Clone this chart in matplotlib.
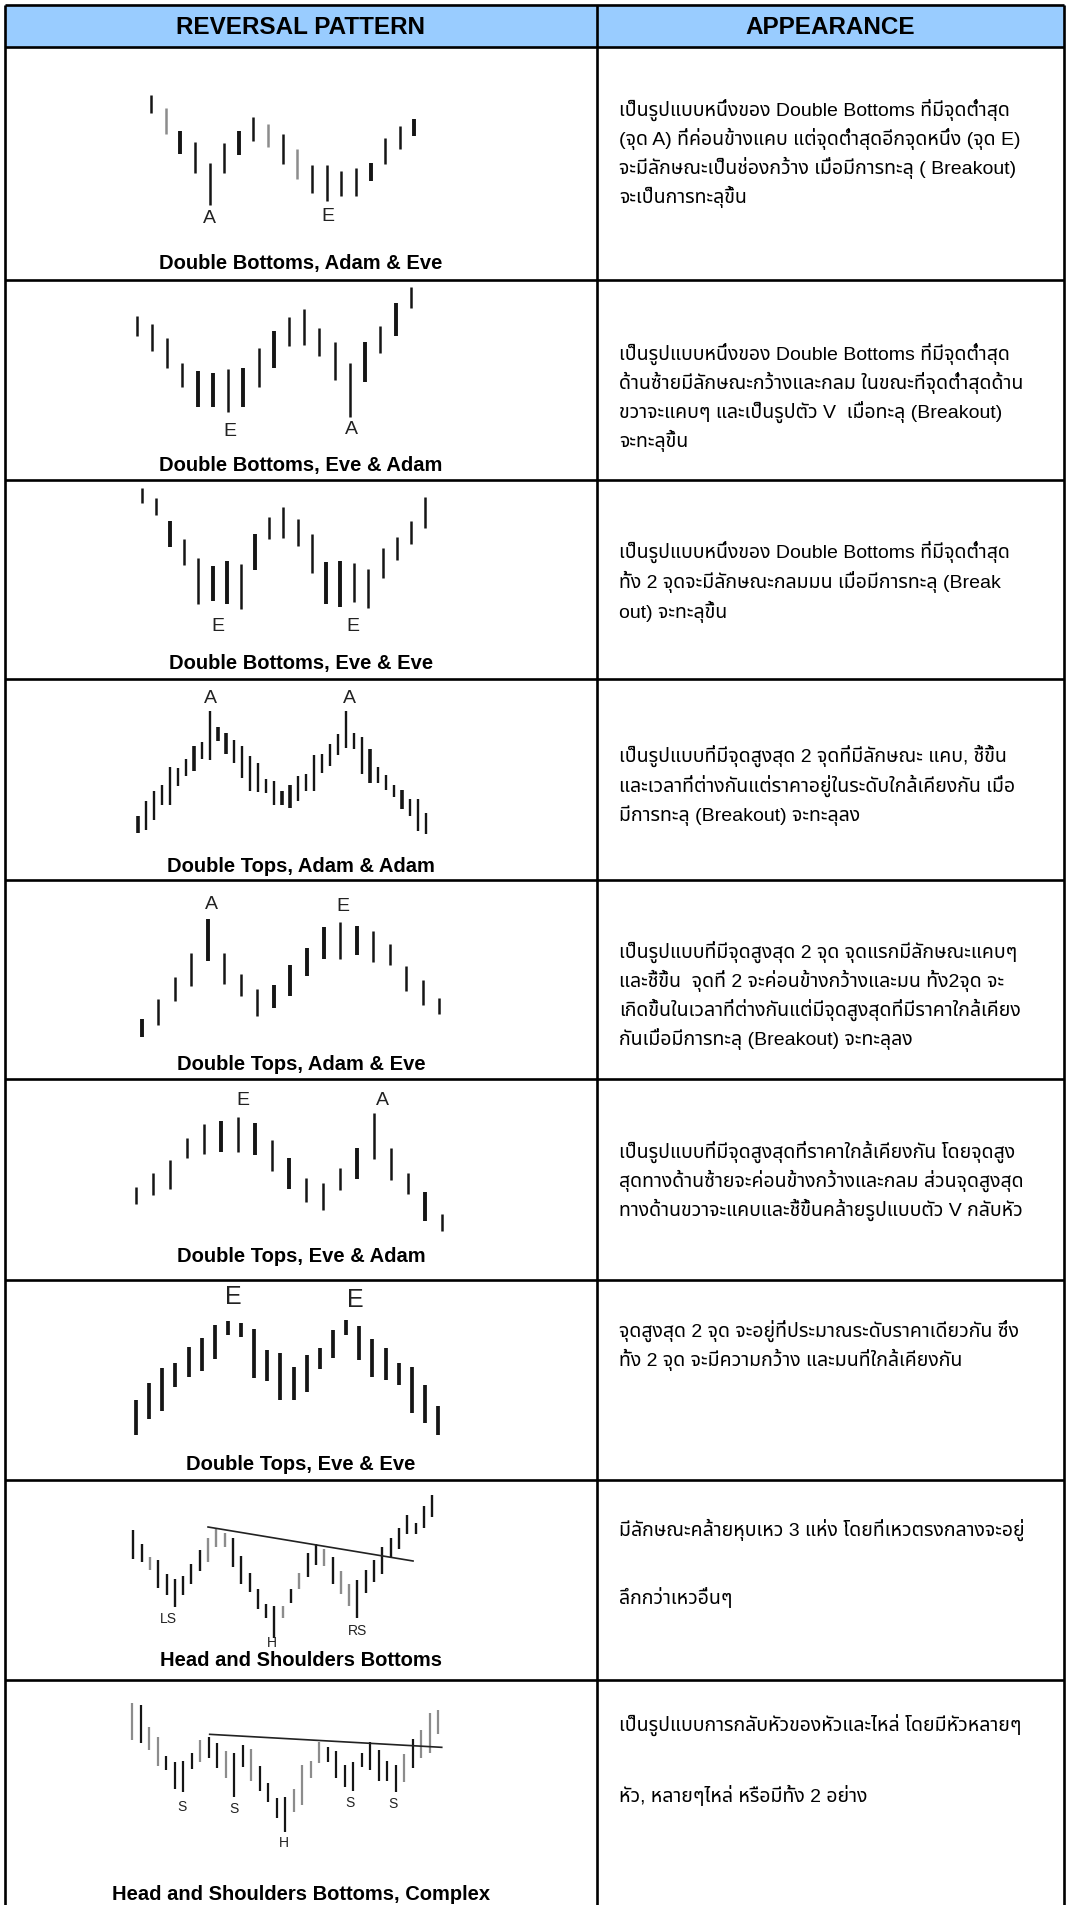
import numpy as np
import matplotlib
matplotlib.use("Agg")
import matplotlib.pyplot as plt
from matplotlib import font_manager as fm
from matplotlib.ft2font import FT2Font

W, H = 1067, 1905

# ---------------- data ----------------
headers = ["REVERSAL PATTERN", "APPEARANCE"]

pattern_names = [
    "Double Bottoms, Adam & Eve",
    "Double Bottoms, Eve & Adam",
    "Double Bottoms, Eve & Eve",
    "Double Tops, Adam & Adam",
    "Double Tops, Adam & Eve",
    "Double Tops, Eve & Adam",
    "Double Tops, Eve & Eve",
    "Head and Shoulders Bottoms",
    "Head and Shoulders Bottoms, Complex",
]

descriptions = [
    ["เป็นรูปแบบหนึ่งของ Double Bottoms ที่มีจุดต่ำสุด",
     "(จุด A) ที่ค่อนข้างแคบ แต่จุดต่ำสุดอีกจุดหนึ่ง (จุด E)",
     "จะมีลักษณะเป็นช่องกว้าง เมื่อมีการทะลุ ( Breakout)",
     "จะเป็นการทะลุขึ้น"],
    ["เป็นรูปแบบหนึ่งของ Double Bottoms ที่มีจุดต่ำสุด",
     "ด้านซ้ายมีลักษณะกว้างและกลม ในขณะที่จุดต่ำสุดด้าน",
     "ขวาจะแคบๆ และเป็นรูปตัว V  เมื่อทะลุ (Breakout)",
     "จะทะลุขึ้น"],
    ["เป็นรูปแบบหนึ่งของ Double Bottoms ที่มีจุดต่ำสุด",
     "ทั้ง 2 จุดจะมีลักษณะกลมมน เมื่อมีการทะลุ (Break",
     "out) จะทะลุขึ้น"],
    ["เป็นรูปแบบที่มีจุดสูงสุด 2 จุดที่มีลักษณะ แคบ, ชี้ขึ้น",
     "และเวลาที่ต่างกันแต่ราคาอยู่ในระดับใกล้เคียงกัน เมื่อ",
     "มีการทะลุ (Breakout) จะทะลุลง"],
    ["เป็นรูปแบบที่มีจุดสูงสุด 2 จุด จุดแรกมีลักษณะแคบๆ",
     "และชี้ขึ้น  จุดที่ 2 จะค่อนข้างกว้างและมน ทั้ง2จุด จะ",
     "เกิดขึ้นในเวลาที่ต่างกันแต่มีจุดสูงสุดที่มีราคาใกล้เคียง",
     "กันเมื่อมีการทะลุ (Breakout) จะทะลุลง"],
    ["เป็นรูปแบบที่มีจุดสูงสุดที่ราคาใกล้เคียงกัน โดยจุดสูง",
     "สุดทางด้านซ้ายจะค่อนข้างกว้างและกลม ส่วนจุดสูงสุด",
     "ทางด้านขวาจะแคบและชี้ขึ้นคล้ายรูปแบบตัว V กลับหัว"],
    ["จุดสูงสุด 2 จุด จะอยู่ที่ประมาณระดับราคาเดียวกัน ซึ่ง",
     "ทั้ง 2 จุด จะมีความกว้าง และมนที่ใกล้เคียงกัน"],
    ["มีลักษณะคล้ายหุบเหว 3 แห่ง โดยที่เหวตรงกลางจะอยู่",
     "",
     "ลึกกว่าเหวอื่นๆ"],
    ["เป็นรูปแบบการกลับหัวของหัวและไหล่ โดยมีหัวหลายๆ",
     "",
     "หัว, หลายๆไหล่ หรือมีทั้ง 2 อย่าง"],
]

# bar highs / lows (arbitrary price units)
db_ae_high = [465, 427, 358, 325, 260, 320, 357, 400, 378, 347, 302, 255, 255, 238, 247, 260, 337, 373, 392]
db_ae_low = [412, 347, 288, 230, 135, 230, 285, 327, 310, 257, 213, 170, 147, 163, 163, 207, 257, 302, 343]

db_ea_high = [417, 392, 352, 277, 252, 245, 257, 260, 320, 372, 413, 438, 382, 340, 275, 340, 388, 457, 503]
db_ea_low = [357, 312, 260, 205, 143, 145, 130, 145, 205, 262, 328, 330, 297, 225, 115, 220, 307, 357, 440]

db_ee_high = [515, 487, 418, 363, 307, 283, 298, 287, 377, 428, 458, 423, 377, 293, 298, 292, 273, 335, 370, 418, 488]
db_ee_low = [470, 435, 338, 285, 168, 177, 168, 153, 270, 363, 367, 343, 260, 168, 158, 173, 157, 245, 300, 348, 397]

dt_aa_high = [138, 182, 212, 232, 285, 282, 308, 347, 360, 452, 405, 387, 367, 348, 318, 298, 250, 242, 212,
              232, 257, 263, 322, 325, 353, 385, 452, 387, 375, 340, 285, 260, 232, 215, 190, 190, 147]
dt_aa_low = [88, 95, 127, 172, 172, 227, 258, 272, 310, 305, 363, 325, 298, 252, 212, 210, 208, 170, 172,
             162, 182, 212, 212, 268, 288, 322, 342, 338, 263, 238, 238, 217, 195, 160, 137, 92, 85]

dt_ae_high = [147, 207, 273, 345, 447, 345, 283, 237, 250, 310, 360, 422, 437, 425, 412, 373, 305, 263, 210]
dt_ae_low = [93, 130, 200, 247, 322, 252, 217, 157, 180, 217, 277, 328, 327, 340, 317, 310, 232, 190, 162]

dt_ea_high = [270, 313, 352, 418, 458, 468, 480, 463, 412, 358, 297, 283, 328, 388, 492, 388, 313, 255, 188]
dt_ea_low = [220, 247, 265, 358, 370, 375, 375, 367, 318, 265, 225, 200, 262, 295, 353, 292, 248, 167, 138]

dt_ee_high = [245, 298, 342, 357, 405, 432, 472, 482, 478, 460, 397, 387, 345, 382, 403, 455, 485, 467,
              428, 402, 357, 345, 290, 228]
dt_ee_low = [142, 190, 212, 285, 315, 332, 368, 442, 435, 312, 303, 245, 245, 270, 338, 373, 440, 365,
             315, 307, 290, 208, 178, 142]

hs_high = [467, 425, 388, 378, 335, 320, 330, 367, 408, 445, 472, 460, 445, 390, 338, 290, 245, 240, 240,
           290, 340, 400, 425, 410, 387, 345, 305, 318, 348, 378, 417, 445, 475, 512, 488, 540, 572]
hs_low = [382, 372, 348, 295, 272, 238, 272, 307, 345, 372, 418, 418, 358, 305, 282, 232, 205, 145, 205,
          250, 292, 328, 362, 360, 305, 275, 240, 205, 280, 313, 335, 385, 412, 455, 455, 475, 508]
hs_neck = [(9.0, 477), (33.7, 375)]

hsc_high = [605, 600, 535, 505, 447, 430, 432, 457, 495, 505, 485, 462, 455, 480, 468, 417, 365, 320, 323,
            348, 420, 433, 490, 475, 462, 420, 430, 457, 488, 465, 432, 420, 453, 498, 525, 575, 585]
hsc_low = [495, 485, 465, 417, 405, 348, 340, 407, 430, 440, 410, 380, 325, 415, 373, 343, 310, 260, 220,
           280, 300, 380, 425, 430, 380, 355, 343, 415, 405, 373, 373, 340, 368, 410, 440, 457, 512]
hsc_neck = [(9.1, 512), (36.4, 473)]

# point labels: (text, bar position, price)
labels = [
    [("A", 4, 95), ("E", 12.1, 100)],
    [("E", 6.1, 70), ("A", 14.1, 75)],
    [("E", 5.4, 100), ("E", 14.9, 100)],
    [("A", 9.0, 490), ("A", 26.4, 490)],
    [("A", 4.2, 490), ("E", 12.2, 485)],
    [("E", 6.3, 530), ("A", 14.5, 530)],
    [("E", 7.4, 555), ("E", 16.7, 545)],
    [("LS", 4.2, 200), ("H", 16.7, 130), ("RS", 27.0, 165)],
    [("S", 5.8, 295), ("S", 11.9, 288), ("H", 17.8, 185), ("S", 25.6, 305), ("S", 30.7, 302)],
]

series = [(db_ae_high, db_ae_low), (db_ea_high, db_ea_low), (db_ee_high, db_ee_low),
          (dt_aa_high, dt_aa_low), (dt_ae_high, dt_ae_low), (dt_ea_high, dt_ea_low),
          (dt_ee_high, dt_ee_low), (hs_high, hs_low), (hsc_high, hsc_low)]

# ---------------- styles / layout ----------------
thick_bars = [[2, 6, 15, 18], [4, 5, 7, 9, 15, 17], [2, 5, 6, 8, 13, 14], [0, 7, 10, 11, 18, 19, 29, 33],
              [0, 4, 8, 9, 10, 11, 13], [5, 7, 9, 13, 17], [], [], []]
gray_bars = [[1, 8, 10], [], [], [], [], [], [],
             [2, 9, 10, 11, 18, 20, 23, 25, 26],
             [0, 2, 3, 8, 11, 14, 19, 20, 21, 22, 32, 34, 35, 36]]
base_lw = [1.8, 1.8, 1.8, 1.7, 1.8, 1.8, 2.7, 1.7, 1.6]
bold_lw = [2.8, 2.8, 2.8, 2.6, 2.8, 2.8, 2.7, 1.7, 1.6]
label_size = [14, 14, 14, 14, 14, 14, 18, 10, 10]

crop_y = [50, 255, 460, 662, 868, 1072, 1282, 1486, 1690]
crop_h = [200, 200, 200, 200, 200, 205, 200, 200, 215]
first_x = [93, 50, 65, 55, 65, 47, 48, 40, 37]
step_x = [43.9, 45.7, 42.5, 24.0, 49.6, 51.0, 39.4, 24.9, 25.5]

row_lines = [47, 280, 480, 679, 880, 1079, 1280, 1480, 1680]
name_y = [263, 465, 663, 866, 1064, 1257, 1465, 1661, 1895]
desc_y = [110, 354, 552, 756, 952, 1152, 1331, 1530, 1725]
desc_gap = [29, 29, 30, 30, 29, 29, 29, 34, 35]
col_x = 597
left_x, right_x, top_y = 5, 1064, 5


def font_with(ch):
    names = []
    for f in fm.fontManager.ttflist:
        try:
            if ord(ch) in FT2Font(f.fname).get_charmap():
                names.append(f.name)
        except Exception:
            pass
    return names


thai = font_with("ก")
pref = ["Noto Sans Thai", "Noto Sans Thai UI", "Loma", "Garuda", "Waree", "Umpush", "Tlwg Typo"]
thai_font = next((p for p in pref if p in thai), thai[0] if thai else None)
installed = {f.name for f in fm.fontManager.ttflist}
latin = "Liberation Sans" if "Liberation Sans" in installed else "DejaVu Sans"
desc_family = [latin] + ([thai_font] if thai_font else []) + ["DejaVu Sans"]

plt.rcParams["font.family"] = [latin, "DejaVu Sans"]

fig = plt.figure(figsize=(W / 100, H / 100), dpi=100)
ax = fig.add_axes([0, 0, 1, 1])
ax.set_xlim(0, W)
ax.set_ylim(H, 0)
ax.axis("off")

# header
ax.fill_between([left_x, right_x], top_y, row_lines[0], color="#99ccff", zorder=0)
ax.text((left_x + col_x) / 2, (top_y + row_lines[0]) / 2 + 1, headers[0], ha="center", va="center",
        fontsize=17.5, fontweight="bold")
ax.text((col_x + right_x) / 2, (top_y + row_lines[0]) / 2 + 1, headers[1], ha="center", va="center",
        fontsize=17.5, fontweight="bold")

# grid
lw = 1.9
ax.hlines([top_y] + row_lines, left_x, right_x, color="black", lw=lw, zorder=3)
ax.vlines([left_x, col_x, right_x], top_y, H, color="black", lw=lw, zorder=3)

# text
for k in range(9):
    ax.text((left_x + col_x) / 2, name_y[k], pattern_names[k], ha="center", va="center",
            fontsize=14.5, fontweight="bold")
    y = desc_y[k]
    for line in descriptions[k]:
        if line:
            ax.text(619, y, line, ha="left", va="center", fontsize=14, family=desc_family, zorder=4)
        y += desc_gap[k]

# bar sketches
for k, (hi, lo) in enumerate(series):
    h = crop_h[k]
    pax = fig.add_axes([120 / W, 1 - (crop_y[k] + h) / H, 440 / W, h / H])
    pax.set_xlim(-first_x[k] / step_x[k], (1320 - first_x[k]) / step_x[k])
    pax.set_ylim(0, 3 * h)
    pax.axis("off")
    idx = np.arange(len(hi))
    widths = [bold_lw[k] if i in thick_bars[k] else base_lw[k] for i in idx]
    colors = ["#8c8c8c" if i in gray_bars[k] else "#151515" for i in idx]
    pax.vlines(idx, lo, hi, colors=colors, linewidths=widths)
    for txt, pos, price in labels[k]:
        pax.text(pos, price, txt, ha="center", va="center", fontsize=label_size[k], color="#222222")
    if k == 7:
        (x1, y1), (x2, y2) = hs_neck
        pax.plot([x1, x2], [y1, y2], color="#222222", lw=1.2)
    if k == 8:
        (x1, y1), (x2, y2) = hsc_neck
        pax.plot([x1, x2], [y1, y2], color="#222222", lw=1.2)

fig.savefig("out.png", dpi=100)
